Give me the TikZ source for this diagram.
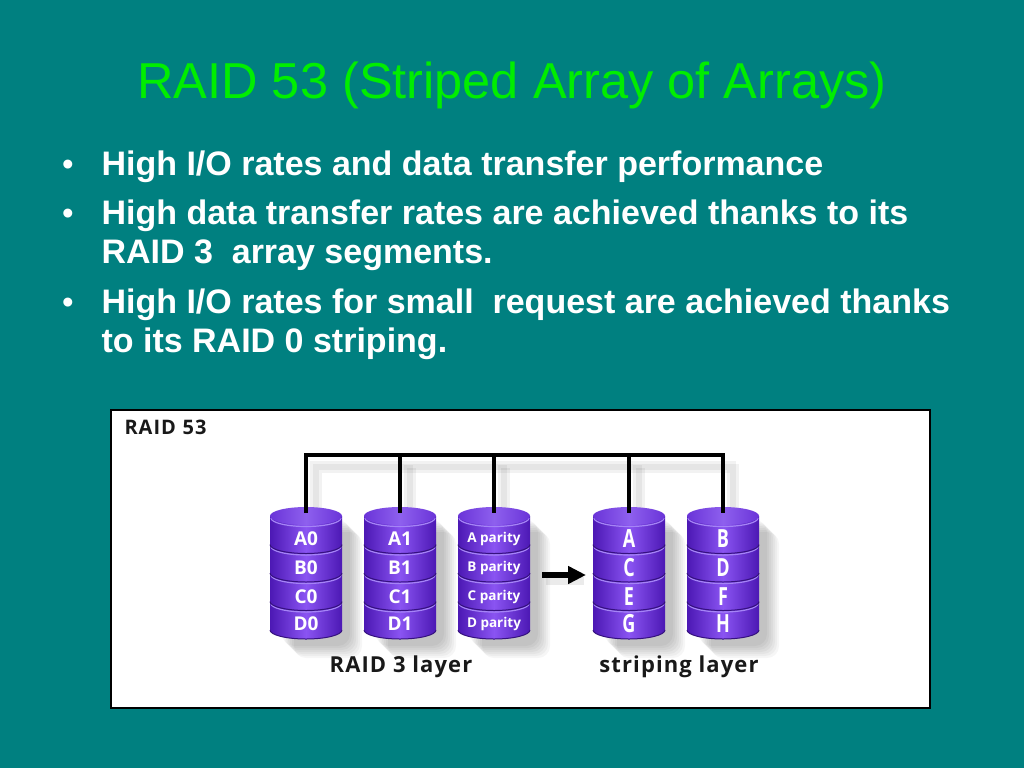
\documentclass[tikz,border=0pt]{standalone}
\usepackage{fontspec}
\setmainfont{Liberation Sans}
\newfontfamily\dfont{Open Sans}[LetterSpace=5]
\newfontfamily\dfontn{Open Sans}
\usetikzlibrary{arrows.meta}
\definecolor{bgteal}{HTML}{008080}
\definecolor{titlegreen}{HTML}{00EE00}
\definecolor{pdark}{HTML}{4C18B4}
\definecolor{pmid}{HTML}{8A54F2}
\definecolor{ptop}{HTML}{8E60EE}
\definecolor{ptopdark}{HTML}{6A34D8}
\definecolor{pline}{HTML}{A584F6}
\tikzset{
  bullettext/.style={anchor=base west, text=white, font=\bfseries\fontsize{34}{40}\selectfont},
  bulletdot/.style={anchor=base, text=white, font=\fontsize{33}{40}\selectfont},
  disklabel/.style={text=white, inner sep=0pt},
  layerlabel/.style={anchor=base, font=\dfont\bfseries\fontsize{22}{22}\selectfont, text=black!90},
  bus/.style={line width=4pt, black},
  busshadow/.style={line width=9pt, black, opacity=0.05},
}
% #1 cx, #2 name, #3-#6 labels, #7 font
\newcommand\drawcyl[7]{%
\begin{scope}[shift={(#1,0)}]
  \foreach \k in {0,...,6}{
    \fill[black,opacity=0.035,rounded corners=12pt] (-24+2*\k,520+2*\k) rectangle (44+2*\k,646+2*\k);
  }
  \foreach \ya/\yb in {601.5/630,573/601.5,544.5/573,516/544.5}{
    \path[left color=pdark,right color=pdark,middle color=pmid]
      (-36,\ya) -- (-36,\yb) arc[start angle=180,end angle=360,x radius=36pt,y radius=9pt] -- (36,\ya) -- cycle;
    \draw[pline,line width=1.2pt] (-35,\ya+2) arc[start angle=180,end angle=360,x radius=35pt,y radius=8.5pt];
    \draw[pdark!70!black,line width=1pt] (-36,\yb) arc[start angle=180,end angle=360,x radius=36pt,y radius=9pt];
  }
  \path[left color=ptopdark,right color=ptopdark,middle color=ptop] (0,516) ellipse[x radius=36pt,y radius=9pt];
  \coordinate (#2) at (0,513);
  \node[disklabel,font=#7] (#2a) at (0,539) {#3};
  \node[disklabel,font=#7] (#2b) at (0,568) {#4};
  \node[disklabel,font=#7] (#2c) at (0,596.5) {#5};
  \node[disklabel,font=#7] (#2d) at (0,624) {#6};
\end{scope}}
\newcommand\sq[1]{\scalebox{0.72}[1]{#1}}
\begin{document}
\begin{tikzpicture}[x=1pt,y=-1pt]
  \fill[bgteal] (0,0) rectangle (1024,768);
  \useasboundingbox (0,0) rectangle (1024,768);
  % title
  \node[font=\fontsize{50.5}{60}\selectfont, text=titlegreen, anchor=base] (title) at (512,98) {RAID 53 (Striped Array of Arrays)};
  % bullets
  \node[bulletdot] (d1) at (68,175) {•};
  \node[bullettext] (t1) at (98,175) {High I/O rates and data transfer performance};
  \node[bulletdot] (d2) at (68,224) {•};
  \node[bullettext] (t2) at (98,224) {High data transfer rates are achieved thanks to its};
  \node[bullettext] (t2b) at (98,263) {RAID 3\ \ array segments.};
  \node[bulletdot] (d3) at (68,313) {•};
  \node[bullettext] (t3) at (98,313) {High I/O rates for small\ \ request are achieved thanks};
  \node[bullettext] (t3b) at (98,352) {to its RAID 0 striping.};
  % panel
  \draw[line width=2pt, fill=white] (111,410) rectangle (930,708);
  \node[anchor=base west, font=\dfont\bfseries\fontsize{20}{20}\selectfont, text=black!90] (plabel) at (121,434) {RAID\,\,53};
  % bus shadow
  \foreach \s in {0,3}{
    \draw[busshadow] (314+\s,520) -- (314+\s,465+\s) -- (731+\s,465+\s) -- (731+\s,520);
    \draw[busshadow] (408+\s,465+\s) -- (408+\s,520);
    \draw[busshadow] (502+\s,465+\s) -- (502+\s,520);
    \draw[busshadow] (637+\s,465+\s) -- (637+\s,520);
  }
  % cylinders
  \drawcyl{306}{c1}{A0}{B0}{C0}{D0}{\dfontn\bfseries\fontsize{19}{19}\selectfont}
  \drawcyl{400}{c2}{A1}{B1}{C1}{D1}{\dfontn\bfseries\fontsize{19}{19}\selectfont}
  \drawcyl{494}{c3}{A parity}{B parity}{C parity}{D parity}{\dfontn\bfseries\fontsize{13.5}{14}\selectfont}
  \drawcyl{629}{c4}{\sq{A}}{\sq{C}}{\sq{E}}{\sq{G}}{\dfontn\bfseries\fontsize{25}{25}\selectfont}
  \drawcyl{723}{c5}{\sq{B}}{\sq{D}}{\sq{F}}{\sq{H}}{\dfontn\bfseries\fontsize{25}{25}\selectfont}
  % bus
  \coordinate (busy) at (0,455);
  \draw[bus] (c1) -- (c1 |- busy) -- (c5 |- busy) -- (c5);
  \draw[bus] (c2 |- busy) -- (c2);
  \draw[bus] (c3 |- busy) -- (c3);
  \draw[bus] (c4 |- busy) -- (c4);
  % arrow
  \coordinate (arrS) at (542,575);
  \coordinate (arrE) at (586,575);
  \draw[black,opacity=0.08,line width=8pt] (546,581) -- (584,581);
  \draw[black, line width=6pt, -{Triangle[length=18pt,width=17pt]}] (arrS) -- (arrE);
  % layer labels
  \node[layerlabel] (l3) at (401,672) {RAID 3 layer};
  \node[layerlabel] (ls) at (679,672) {striping layer};
\end{tikzpicture}
\end{document}
